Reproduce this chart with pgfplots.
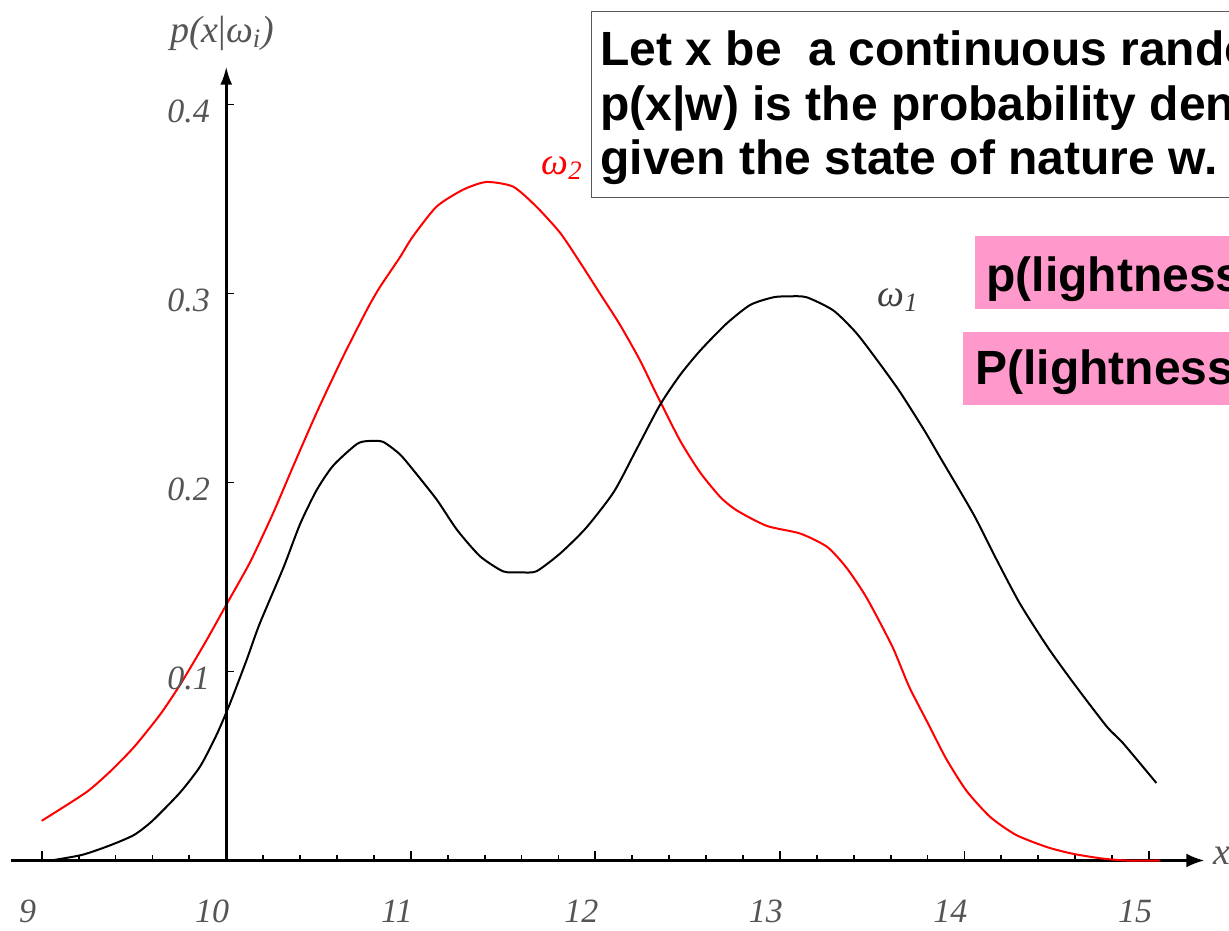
\documentclass[border=0pt]{standalone}
\usepackage{pgfplots}
\pgfplotsset{compat=1.18}
\usepackage{pgfplotstable}
\usepackage{fontspec}
\setmainfont{Liberation Serif}
\newfontfamily\sansbold{Liberation Sans}
\usetikzlibrary{arrows.meta}

\definecolor{notepink}{RGB}{255,153,204}
\definecolor{labelgray}{RGB}{85,85,85}

% class-conditional density p(x|omega_1)
\pgfplotstableread{
x y
9.05 0.000
9.22 0.003
9.37 0.008
9.50 0.0135
9.60 0.021
9.75 0.036
9.86 0.050
9.95 0.067
10.02 0.083
10.11 0.106
10.18 0.125
10.31 0.155
10.40 0.178
10.49 0.196
10.58 0.209
10.71 0.2205
10.78 0.222
10.85 0.2215
10.94 0.215
11.01 0.207
11.14 0.191
11.25 0.175
11.375 0.161
11.50 0.153
11.59 0.1525
11.68 0.153
11.81 0.1625
11.95 0.176
12.10 0.195
12.22 0.217
12.35 0.241
12.46 0.257
12.57 0.270
12.71 0.284
12.84 0.294
12.965 0.298
13.05 0.2985
13.145 0.298
13.29 0.291
13.415 0.279
13.54 0.263
13.65 0.248
13.78 0.228
13.87 0.213
14.05 0.183
14.175 0.159
14.30 0.136
14.45 0.113
14.59 0.094
14.77 0.071
14.86 0.062
15.04 0.041
}\densityone

% class-conditional density p(x|omega_2)
\pgfplotstableread{
x y
9.00 0.021
9.24 0.036
9.37 0.047
9.50 0.060
9.64 0.077
9.75 0.093
9.89 0.116
10.01 0.137
10.13 0.158
10.255 0.184
10.36 0.208
10.49 0.237
10.63 0.266
10.76 0.291
10.83 0.303
10.94 0.319
11.01 0.330
11.14 0.346
11.285 0.355
11.41 0.359
11.555 0.3565
11.68 0.346
11.81 0.332
11.92 0.316
12.025 0.300
12.13 0.284
12.24 0.265
12.33 0.247
12.46 0.222
12.57 0.205
12.68 0.192
12.77 0.185
12.93 0.177
13.11 0.173
13.255 0.166
13.36 0.155
13.47 0.139
13.61 0.113
13.70 0.092
13.80 0.073
13.90 0.054
14.01 0.037
14.14 0.023
14.28 0.0135
14.45 0.007
14.59 0.0035
14.75 0.001
14.88 0.000
15.06 0.000
}\densitytwo

\begin{document}
\begin{tikzpicture}
\useasboundingbox (0pt,0pt) rectangle (614.5pt,465pt);
\clip (0pt,0pt) rectangle (614.5pt,465pt);

\begin{axis}[
  at={(5.53pt,34.75pt)}, anchor=south west,
  scale only axis,
  width=596.65pt, height=396.9pt,
  xmin=8.834, xmax=15.3, ymin=0, ymax=0.42,
  axis x line=bottom, axis y line=none,
  x axis line style={line width=1.3pt, -{Latex[length=9pt,width=7pt]}},
  xtick={9,10,11,12,13,14,15},
  xticklabels={9,10,11,12,13,14,15},
  minor x tick num=4,
  tick align=inside,
  major tick length=5pt, minor tick length=3pt,
  every tick/.style={black, line width=0.9pt},
  xticklabel style={anchor=center, inner sep=0pt, yshift=-25.5pt, xshift=-7pt,
    font=\fontsize{17}{20}\selectfont\itshape, text=labelgray},
  clip=false,
]
  \addplot[red, line width=1pt, smooth, tension=0.4] table[x=x,y=y] {\densitytwo};
  \addplot[black, line width=1pt, smooth, tension=0.4] table[x=x,y=y] {\densityone};

  % vertical axis through x = 10
  \draw[line width=1.3pt, -{Latex[length=9pt,width=6pt]}] (axis cs:10,0) -- (axis cs:10,0.42);
  \pgfplotsinvokeforeach{0.1,0.2,0.3,0.4}{
    \draw[line width=0.9pt] (axis cs:10,#1) -- ([xshift=4pt]axis cs:10,#1);
    \node[anchor=east, inner sep=0pt, text=labelgray,
      font=\fontsize{17}{20}\selectfont\itshape]
      at ([xshift=-8pt,yshift=-3.5pt]axis cs:10,#1) {#1};
  }
\end{axis}

\begin{scope}[x=0.5pt,y=0.5pt]
  % axis names and curve labels
  \node[text=labelgray, font=\fontsize{19}{22}\selectfont] at (222,897)
    {\itshape p(x\upshape|\itshape ω\textsubscript{i})};
  \node[text=labelgray, inner sep=0pt, font=\fontsize{19}{22}\selectfont\itshape] at (1222,74) {x};
  \node[text=red, font=\fontsize{19}{22}\selectfont\itshape] at (562,762) {ω\textsubscript{2}};
  \node[text=black!75, font=\fontsize{19}{22}\selectfont\itshape] at (898,630) {ω\textsubscript{1}};

  % definition box
  \draw[draw=black!65, line width=0.75pt, fill=white] (591.7,918.3) rectangle (1260,732.3);
  \begin{scope}[every node/.style={anchor=base west, inner sep=0pt,
      font=\sansbold\bfseries\fontsize{24}{27}\selectfont}]
    \node at (600,864) {Let x be\ \ a continuous random variable.};
    \node at (600,809) {p(x|w) is the probability density for x};
    \node at (600,755) {given the state of nature w.};
  \end{scope}

  % highlighted notes
  \fill[notepink] (975,694) rectangle (1260,621);
  \fill[notepink] (963,598) rectangle (1260,525);
  \begin{scope}[every node/.style={anchor=base west, inner sep=0pt,
      font=\sansbold\bfseries\fontsize{24}{27}\selectfont}]
    \node at (986,638) {p(lightness | salmon)};
    \node at (975,545) {P(lightness | salmon)};
  \end{scope}
\end{scope}
\end{tikzpicture}
\end{document}
